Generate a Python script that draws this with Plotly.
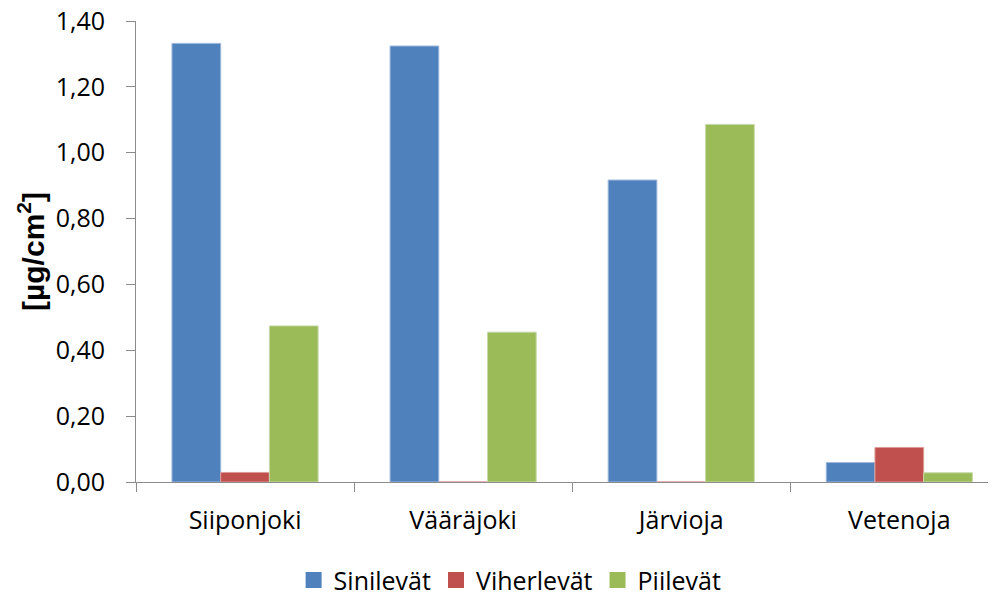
import plotly.graph_objects as go

categories = ["Siiponjoki", "Vääräjoki", "Järvioja", "Vetenoja"]
series_names = ["Sinilevät", "Viherlevät", "Piilevät"]
sinilevat = [1.332, 1.324, 0.917, 0.059]
viherlevat = [0.029, 0.0, 0.0, 0.105]
piilevat = [0.474, 0.455, 1.086, 0.028]
y_ticks = [0.0, 0.2, 0.4, 0.6, 0.8, 1.0, 1.2, 1.4]

colors = ["#4F81BD", "#C0504D", "#9BBB59"]
edge = ["#9DB7DA", "#DD9C9A", "#C6D8A8"]
font = "Open Sans, Arial, sans-serif"

fig = go.Figure()
for name, vals, c, e in zip(series_names, [sinilevat, viherlevat, piilevat], colors, edge):
    fig.add_trace(go.Bar(x=categories, y=vals, name=name, showlegend=False,
                         legendgroup=name,
                         marker=dict(color=c, line=dict(color=e, width=1))))
# legend entries with larger square swatches
for name, c in zip(series_names, colors):
    fig.add_trace(go.Scatter(x=[None], y=[None], name=name, mode="markers",
                             legendgroup=name,
                             marker=dict(symbol="square", size=16, color=c)))

fig.update_layout(
    width=996, height=595,
    margin=dict(l=128, r=0, t=13, b=121, autoexpand=False),
    paper_bgcolor="white", plot_bgcolor="white",
    barmode="group", bargap=0.33, bargroupgap=0,
    separators=", ",
    font=dict(family=font, size=25, color="#000000"),
    showlegend=True,
    legend=dict(orientation="h", x=0.431, xanchor="center", y=-0.213, yanchor="middle",
                font=dict(family=font, size=25, color="#000000"),
                itemwidth=30, traceorder="normal", itemsizing="trace"),
    xaxis=dict(range=[-0.5, 3.48], showline=True, linecolor="#8C8C8C", linewidth=1,
               ticks="outside", tickson="boundaries", ticklen=9, tickcolor="#8C8C8C",
               ticklabelstandoff=16, automargin=False,
               showgrid=False, tickfont=dict(family=font, size=25)),
    yaxis=dict(range=[0, 1.4], tickvals=y_ticks, tickformat=".2f",
               showline=True, linecolor="#8C8C8C", linewidth=1,
               ticks="outside", ticklen=9, tickcolor="#8C8C8C",
               ticklabelstandoff=16, ticklabeloverflow="allow", automargin=False,
               showgrid=False, zeroline=False,
               tickfont=dict(family=font, size=25),
               title=dict(text="<b>[µg/cm<sup>2</sup>]</b>", standoff=2,
                          font=dict(family="Liberation Sans, Arial, sans-serif", size=30))),
)

fig.write_html("out.html")
